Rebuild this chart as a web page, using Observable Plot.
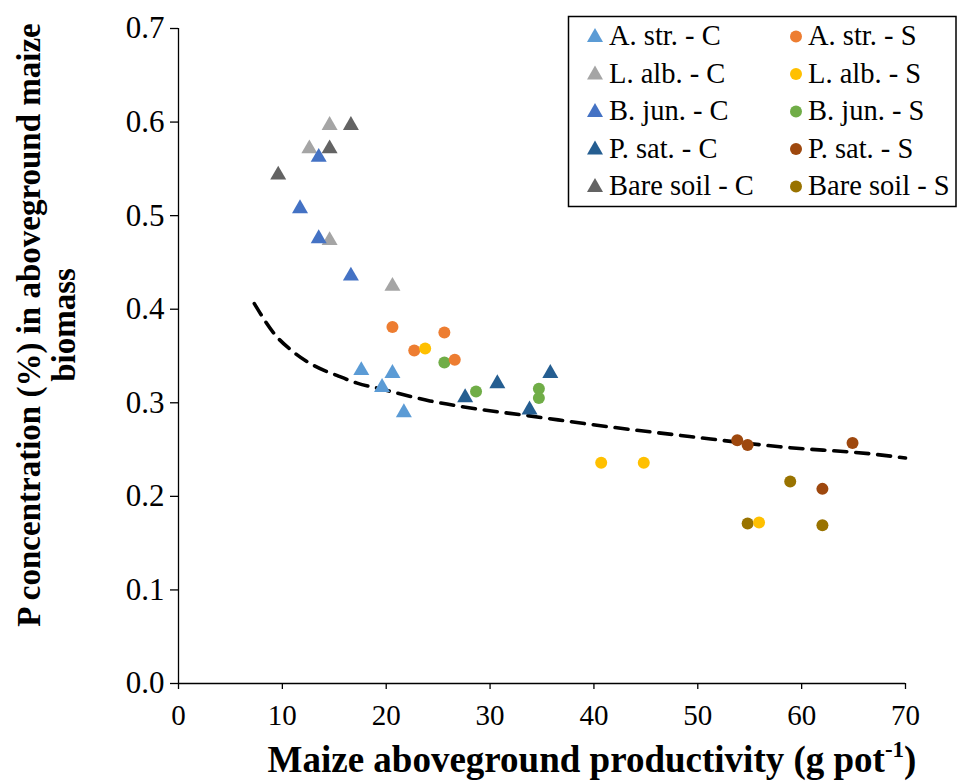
<!DOCTYPE html>
<html><head><meta charset="utf-8">
<script src="https://cdn.jsdelivr.net/npm/d3@7"></script>
<script src="https://cdn.jsdelivr.net/npm/@observablehq/plot@0.6"></script>
<style>
body{margin:0;background:#fff;}
#wrap{width:957px;height:781px;}
</style></head><body><div id="wrap"></div>
<script>
// Series names, colours, symbols
const seriesNames = ["A. str. - C","L. alb. - C","B. jun. - C","P. sat. - C","Bare soil - C",
                     "A. str. - S","L. alb. - S","B. jun. - S","P. sat. - S","Bare soil - S"];
const seriesColors = ["#5B9BD5","#A5A5A5","#4472C4","#255E91","#636363",
                      "#ED7D31","#FFC000","#70AD47","#9E480E","#997300"];
const seriesSymbols = ["triangle","triangle","triangle","triangle","triangle",
                       "circle","circle","circle","circle","circle"];

// Values
const aStrC_x = [17.6, 19.6, 20.6, 21.7];   const aStrC_y = [0.337, 0.319, 0.334, 0.292];
const lAlbC_x = [12.6, 14.55, 14.55, 20.6]; const lAlbC_y = [0.574, 0.599, 0.476, 0.427];
const bJunC_x = [11.7, 13.5, 13.5, 16.6];   const bJunC_y = [0.510, 0.565, 0.478, 0.438];
const pSatC_x = [27.6, 30.7, 33.8, 35.8];   const pSatC_y = [0.308, 0.323, 0.295, 0.334];
const bareC_x = [9.6, 14.55, 16.6];         const bareC_y = [0.546, 0.574, 0.599];
const aStrS_x = [20.6, 22.7, 25.6, 26.6];   const aStrS_y = [0.381, 0.356, 0.375, 0.346];
const lAlbS_x = [23.75, 40.7, 44.8, 55.9];  const lAlbS_y = [0.358, 0.236, 0.236, 0.172];
const bJunS_x = [25.6, 28.65, 34.7, 34.7];  const bJunS_y = [0.343, 0.312, 0.315, 0.305];
const pSatS_x = [53.8, 54.8, 64.9, 62.0];   const pSatS_y = [0.260, 0.255, 0.257, 0.208];
const bareS_x = [58.9, 54.8, 62.0];         const bareS_y = [0.216, 0.171, 0.169];

// Trend line (dashed)
const trend_x = [7.3, 9.2, 11.1, 13.0, 15.3, 17.2, 19.4, 24.2, 29.0, 33.8, 39.6, 49.2, 57.9, 67.0, 70.0];
const trend_y = [0.406, 0.374, 0.354, 0.340, 0.329, 0.321, 0.315, 0.302, 0.293, 0.286, 0.277, 0.264, 0.253, 0.245, 0.241];

const xTicks = [0, 10, 20, 30, 40, 50, 60, 70];
const yTicks = [0, 0.1, 0.2, 0.3, 0.4, 0.5, 0.6, 0.7];

const seriesX = [aStrC_x, lAlbC_x, bJunC_x, pSatC_x, bareC_x, aStrS_x, lAlbS_x, bJunS_x, pSatS_x, bareS_x];
const seriesY = [aStrC_y, lAlbC_y, bJunC_y, pSatC_y, bareC_y, aStrS_y, lAlbS_y, bJunS_y, pSatS_y, bareS_y];

// drawing order
const drawOrder = [4, 1, 2, 0, 3, 7, 9, 8, 5, 6];
const points = [];
for (const i of drawOrder) {
  seriesX[i].forEach((x, j) => points.push({x, y: seriesY[i][j], s: seriesNames[i], i}));
}
const trend = trend_x.map((x, j) => ({x, y: trend_y[j]}));

const FONT = "Liberation Serif, Times New Roman, serif";

const svg = Plot.plot({
  width: 957, height: 781,
  marginLeft: 178, marginRight: 52, marginTop: 28, marginBottom: 98,
  style: {fontFamily: FONT, fontSize: "29px", color: "#000", background: "#fff", overflow: "visible"},
  x: {domain: [0, 70]},
  y: {domain: [0, 0.7]},
  marks: [
    Plot.axisX(xTicks, {tickSize: 6, tickPadding: 15, fontSize: 29, tickFormat: d => String(d), label: null, stroke: "#000", strokeWidth: 1.3, fill: "#000"}),
    Plot.axisY(yTicks, {tickSize: 8, tickPadding: 6, fontSize: 31, tickFormat: d => d.toFixed(1), label: null, stroke: "#000", strokeWidth: 1.3, fill: "#000"}),
    Plot.ruleX([0], {stroke: "#000", strokeWidth: 1.3}),
    Plot.ruleY([0], {stroke: "#000", strokeWidth: 1.3}),
    Plot.line(trend, {x: "x", y: "y", stroke: "#000", strokeWidth: 3.6, strokeDasharray: "13,9", curve: "monotone-x"}),
    Plot.dot(points.filter(d => seriesSymbols[d.i] === "triangle"), {x: "x", y: "y", symbol: "triangle", r: 5.94, dy: 2.3, fill: d => seriesColors[d.i], stroke: "none"}),
    Plot.dot(points.filter(d => seriesSymbols[d.i] === "circle"), {x: "x", y: "y", r: 6, fill: d => seriesColors[d.i], stroke: "none"})
  ]
});

const s = d3.select(svg);

// Y title (two lines, rotated)
const yt = s.append("g");
[["P concentration (%) in aboveground maize", 40], ["biomass", 75]].forEach(([t, x]) => {
  yt.append("text").attr("transform", `translate(${x},325) rotate(-90)`)
    .attr("font-family", FONT).attr("font-weight", "bold").attr("font-size", 33)
    .attr("fill", "#000").attr("text-anchor", "middle").text(t);
});

// X title with superscript
const xt = s.append("text").attr("x", 592).attr("y", 772).attr("font-family", FONT).attr("font-weight", "bold")
  .attr("font-size", 37).attr("fill", "#000").attr("text-anchor", "middle");
xt.append("tspan").text("Maize aboveground productivity (g pot");
xt.append("tspan").attr("dy", -15).attr("font-size", 23).text("-1");
xt.append("tspan").attr("dy", 15).text(")");

// Legend
const lg = s.append("g");
lg.append("rect").attr("x", 568.5).attr("y", 16.5).attr("width", 387.5).attr("height", 190).attr("fill", "#fff").attr("stroke", "#000").attr("stroke-width", 1.5);
const rowY = [35.5, 73, 110.5, 148, 185.5];
const legendOrder = [[0,5],[1,6],[2,7],[3,8],[4,9]];
legendOrder.forEach((pair, r) => {
  const cy = rowY[r];
  const c1 = pair[0];
  lg.append("path").attr("d", `M595,${cy-7.5} L603,${cy+6.5} L587,${cy+6.5} Z`).attr("fill", seriesColors[c1]);
  lg.append("text").attr("x", 609).attr("y", cy + 9.5).attr("font-family", FONT).attr("font-size", 28.5)
    .attr("fill", "#000").attr("text-anchor", "start").text(seriesNames[c1]);
  const c2 = pair[1];
  lg.append("circle").attr("cx", 796).attr("cy", cy + 1).attr("r", 6).attr("fill", seriesColors[c2]);
  lg.append("text").attr("x", 808).attr("y", cy + 9.5).attr("font-family", FONT).attr("font-size", 28.5)
    .attr("fill", "#000").attr("text-anchor", "start").text(seriesNames[c2]);
});

document.getElementById("wrap").appendChild(svg);
</script>
</body></html>
